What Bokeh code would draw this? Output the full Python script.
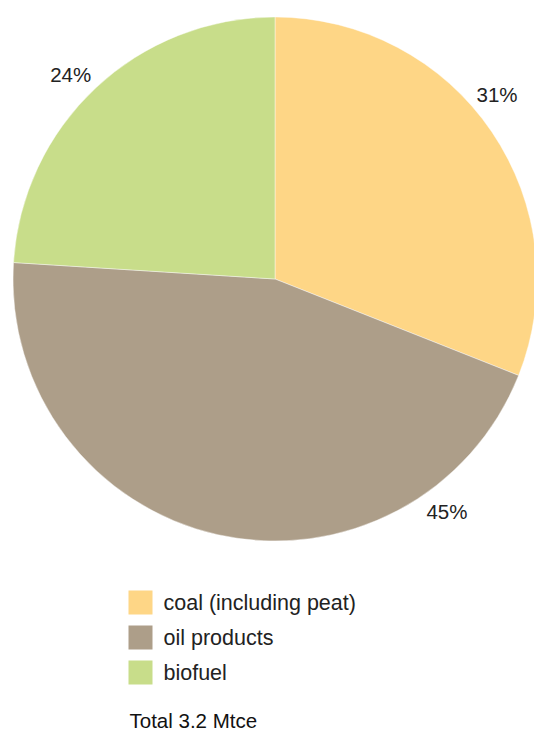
import math
from bokeh.plotting import figure
from bokeh.models import Range1d, ColumnDataSource
from bokeh.core.properties import value
from bokeh.embed import file_html
from bokeh.resources import INLINE

# Final energy mix shares (%)
categories = ["coal (including peat)", "oil products", "biofuel"]
shares = [31, 45, 24]
colors = ["#FED686", "#AD9E89", "#C8DD8A"]
total_label = "Total 3.2 Mtce"

W, H = 534, 731
FONT = "Liberation Sans"

p = figure(width=W, height=H, output_backend="svg", toolbar_location=None,
           x_range=Range1d(0, W), y_range=Range1d(0, H),
           min_border=0, outline_line_color=None)
p.axis.visible = False
p.grid.visible = False
p.background_fill_color = "white"
p.border_fill_color = "white"

cx, cy, r = 274.5, H - 278.5, 262

# Slices run clockwise from 12 o'clock
total = sum(shares)
starts, ends = [], []
cum = 0.0
for s in shares:
    a0 = math.pi / 2 - 2 * math.pi * (cum + s) / total
    a1 = math.pi / 2 - 2 * math.pi * cum / total
    starts.append(a0)
    ends.append(a1)
    cum += s

src = ColumnDataSource(dict(start=starts, end=ends, color=colors))
p.wedge(x=cx, y=cy, radius=r, start_angle="start", end_angle="end",
        direction="anticlock", fill_color="color", line_color="white",
        line_width=0.6, line_alpha=0.7, source=src)

# Percentage labels placed outside the rim
label_angles_deg = [39.8, -53.5, 135.0]
label_r = 289
lx = [cx + label_r * math.cos(math.radians(a)) for a in label_angles_deg]
ly = [cy + label_r * math.sin(math.radians(a)) for a in label_angles_deg]
p.text(x=lx, y=ly, text=[f"{s}%" for s in shares],
       text_font=value(FONT), text_font_size="20.5px", text_color="#222222",
       text_align="center", text_baseline="middle")

# Legend
sw_x, sw_y0, sw_step, sw_size = 140, H - 602, 35, 24
ys = [sw_y0 - i * sw_step for i in range(len(categories))]
p.rect(x=[sw_x] * len(categories), y=ys, width=sw_size, height=sw_size,
       fill_color=colors, line_color=None)
p.text(x=[163] * len(categories), y=ys, text=categories,
       text_font=value(FONT), text_font_size="21.5px", text_color="#222222",
       text_align="left", text_baseline="middle")

p.text(x=[129], y=[H - 720], text=[total_label],
       text_font=value(FONT), text_font_size="20.5px", text_color="#111111",
       text_align="left", text_baseline="middle")

open("out.html", "w").write(file_html(p, INLINE))
